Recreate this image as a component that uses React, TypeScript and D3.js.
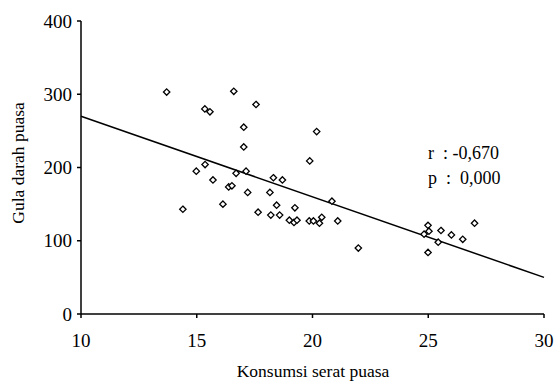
import React from 'react';
import * as d3 from 'd3';

// Konsumsi serat puasa (x) vs gula darah puasa (y)
const seratValues = [
  13.7, 16.6, 15.35, 15.57, 17.56, 17.03, 20.18, 17.03, 19.88, 15.36,
  14.98, 15.7, 16.7, 17.13, 18.31, 18.7, 16.38, 16.52, 17.2, 18.16,
  14.4, 16.13, 17.65, 18.45, 18.2, 18.58, 19.24, 19.0, 19.2, 19.33,
  19.86, 20.04, 20.3, 20.4, 20.84, 21.09, 21.98, 24.99, 25.03, 24.82,
  25.55, 25.43, 26.0, 26.49, 27.0, 24.99,
];
const gulaValues = [
  303, 304, 280, 276, 286, 255, 249, 228, 209, 204,
  195, 183, 192, 195, 186, 183, 173.5, 175, 166, 166,
  143, 150, 139, 148.5, 135, 135, 145, 128, 125, 128,
  127, 127, 124, 132, 154, 127, 90, 121, 113, 109,
  114, 98, 108, 102, 124, 84,
];
const xTicks = [10, 15, 20, 25, 30];
const yTicks = [0, 100, 200, 300, 400];
// regression line end points (x, predicted y)
const trendX = [10, 30];
const trendY = [270, 50];
const statLabels = ['r  : -0,670', 'p  :  0,000'];

const W = 557;
const H = 384;
const FONT = '"Liberation Serif", "Times New Roman", serif';

const App = () => {
  const x = d3.scaleLinear().domain([10, 30]).range([81, 544]);
  const y = d3.scaleLinear().domain([0, 400]).range([314, 21]);

  const points = seratValues.map((s, i) => ({ s, g: gulaValues[i] }));
  const diamond = (cx: number, cy: number) => {
    const r = 3.2;
    return `M${cx},${cy - r}L${cx + r},${cy}L${cx},${cy + r}L${cx - r},${cy}Z`;
  };
  const trend = d3.line<number>()
    .x((d) => x(d))
    .y((_, i) => y(trendY[i]));

  return (
    <svg width={W} height={H} style={{ position: 'absolute', left: 0, top: 0, fontFamily: FONT }}>
      <rect width={W} height={H} fill="#fff" />

      {/* y axis */}
      <line x1={x(10)} x2={x(10)} y1={y(0)} y2={y(400)} stroke="#000" strokeWidth={1.5} />
      {yTicks.map((t) => (
        <g key={t}>
          <line x1={x(10) - 4} x2={x(10)} y1={y(t)} y2={y(t)} stroke="#000" strokeWidth={1.5} />
          <text x={72} y={y(t)} dy="0.35em" textAnchor="end" fontSize={19}>{t}</text>
        </g>
      ))}

      {/* x axis */}
      <line x1={x(10)} x2={x(30)} y1={y(0)} y2={y(0)} stroke="#000" strokeWidth={1.5} />
      {xTicks.map((t) => (
        <g key={t}>
          <line x1={x(t)} x2={x(t)} y1={y(0)} y2={y(0) + 4} stroke="#000" strokeWidth={1.5} />
          <text x={x(t)} y={347} textAnchor="middle" fontSize={19}>{t}</text>
        </g>
      ))}

      <text x={313} y={377} textAnchor="middle" fontSize={17.5}>Konsumsi serat puasa</text>
      <text transform={`translate(24,163) rotate(-90)`} textAnchor="middle" fontSize={17.5}>Gula darah puasa</text>

      {/* regression line */}
      <path d={trend(trendX) || ''} fill="none" stroke="#000" strokeWidth={1.5} />

      {points.map((p, i) => (
        <path key={i} d={diamond(x(p.s), y(p.g))} fill="#fff" stroke="#000" strokeWidth={1.3} />
      ))}

      {statLabels.map((l, i) => (
        <text key={l} x={428} y={159 + i * 25} fontSize={18} style={{ whiteSpace: 'pre' }}>{l}</text>
      ))}
    </svg>
  );
};

export default App;
